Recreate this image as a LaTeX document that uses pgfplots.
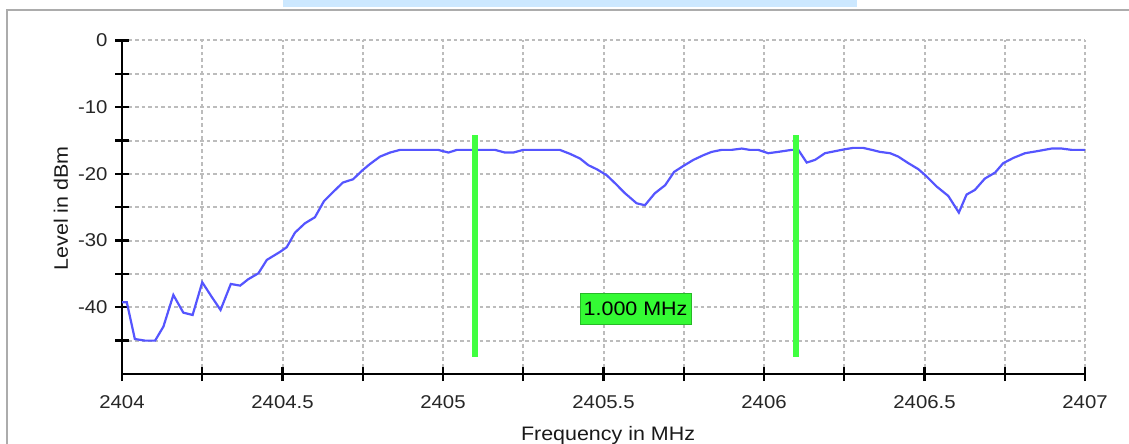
\documentclass[border=0pt]{standalone}
\usepackage{pgfplots}
\pgfplotsset{compat=1.18}
\usepackage{fontspec}
\setmainfont{Liberation Sans}[FakeStretch=1.1]

\definecolor{trace}{RGB}{85,85,255}
\definecolor{markergreen}{RGB}{64,255,64}
\definecolor{gridgray}{RGB}{188,188,188}
\definecolor{framegray}{RGB}{172,172,172}
\definecolor{topbar}{RGB}{204,232,255}
\definecolor{boxfill}{RGB}{52,250,52}
\definecolor{boxedge}{RGB}{40,185,40}

% spectrum trace: frequency (MHz) vs level (dBm)
\pgfplotstableread{
f        L
2404.000 -39.25
2404.015 -39.25
2404.040 -44.75
2404.072 -45.00
2404.103 -45.00
2404.129 -42.90
2404.160 -38.15
2404.191 -40.80
2404.220 -41.15
2404.250 -36.25
2404.279 -38.40
2404.307 -40.40
2404.339 -36.50
2404.368 -36.75
2404.393 -35.80
2404.425 -34.90
2404.451 -32.90
2404.492 -31.70
2404.513 -31.00
2404.539 -28.80
2404.570 -27.40
2404.601 -26.50
2404.629 -24.10
2404.658 -22.70
2404.688 -21.30
2404.720 -20.80
2404.748 -19.50
2404.773 -18.50
2404.804 -17.40
2404.835 -16.80
2404.866 -16.40
2404.985 -16.40
2405.017 -16.80
2405.043 -16.40
2405.162 -16.40
2405.193 -16.80
2405.219 -16.80
2405.250 -16.40
2405.364 -16.40
2405.396 -17.00
2405.427 -17.70
2405.453 -18.70
2405.479 -19.30
2405.510 -20.20
2405.536 -21.40
2405.567 -22.90
2405.603 -24.40
2405.629 -24.70
2405.660 -22.90
2405.692 -21.70
2405.720 -19.70
2405.749 -18.80
2405.780 -17.90
2405.811 -17.20
2405.837 -16.70
2405.868 -16.40
2405.899 -16.40
2405.931 -16.20
2405.956 -16.40
2405.982 -16.40
2406.013 -16.90
2406.044 -16.70
2406.086 -16.40
2406.107 -16.40
2406.133 -18.30
2406.159 -17.90
2406.190 -16.90
2406.221 -16.60
2406.252 -16.30
2406.278 -16.10
2406.309 -16.10
2406.336 -16.40
2406.361 -16.70
2406.393 -16.90
2406.418 -17.40
2406.450 -18.40
2406.481 -19.30
2406.507 -20.40
2406.538 -21.90
2406.574 -23.30
2406.607 -25.80
2406.631 -23.10
2406.657 -22.40
2406.688 -20.70
2406.720 -19.80
2406.745 -18.40
2406.777 -17.60
2406.813 -16.90
2406.850 -16.60
2406.896 -16.20
2406.927 -16.20
2406.959 -16.40
2407.000 -16.40
}\tracedata

\begin{document}
\begin{tikzpicture}[x=1pt,y=1pt]
\useasboundingbox (0,0) rectangle (1129,444);
% window decoration
\fill[topbar] (283,437.3) rectangle (857,444);
\draw[framegray, line width=2pt] (7.3,-5) -- (7.3,434) -- (1140,434);

\begin{axis}[
  at={(122pt,70pt)}, anchor=south west,
  scale only axis, width=963pt, height=333.5pt,
  xmin=2404, xmax=2407, ymin=-50, ymax=0,
  axis x line=bottom, axis y line=left,
  axis line style={-, line width=2.4pt, black},
  xtick={2404,2404.5,2405,2405.5,2406,2406.5,2407},
  xticklabels={2404,2404.5,2405,2405.5,2406,2406.5,2407},
  minor xtick={2404.25,2404.75,2405.25,2405.75,2406.25,2406.75},
  ytick={-40,-30,-20,-10,0},
  yticklabels={-40,-30,-20,-10,0},
  minor ytick={-45,-35,-25,-15,-5},
  tick align=center,
  major tick length=14pt, minor tick length=14pt,
  every tick/.style={black, line width=2.4pt},
  grid=both,
  major grid style={gridgray, line width=2pt, dash pattern=on 3.5pt off 3pt},
  minor grid style={gridgray, line width=2pt, dash pattern=on 3.5pt off 3pt},
  ticklabel style={font=\fontsize{18.5}{22}\selectfont, text=black!85},
  xticklabel style={yshift=-11pt},
  yticklabel style={xshift=-4pt},
  label style={font=\fontsize{19.5}{23}\selectfont, text=black!90},
  xlabel={Frequency in MHz},
  ylabel={Level in dBm},
  xlabel style={at={(axis description cs:0.5047,-0.1997)}, anchor=base},
  ylabel style={at={(axis description cs:-0.0561,0.497)}, anchor=base},
]
\addplot[trace, line width=2.2pt] table[x=f, y=L] {\tracedata};
% frequency markers
\addplot[markergreen, line width=6.7pt] coordinates {(2405.1,-14.2) (2405.1,-47.45)};
\addplot[markergreen, line width=6.7pt] coordinates {(2406.1,-14.2) (2406.1,-47.45)};
\node[fill=boxfill, draw=boxedge, line width=1pt, minimum width=111pt,
      minimum height=31pt, inner sep=0pt, font=\fontsize{19.5}{23}\selectfont]
  at (axis cs:2405.6,-40.2) {1.000 MHz};
\end{axis}
\end{tikzpicture}
\end{document}
